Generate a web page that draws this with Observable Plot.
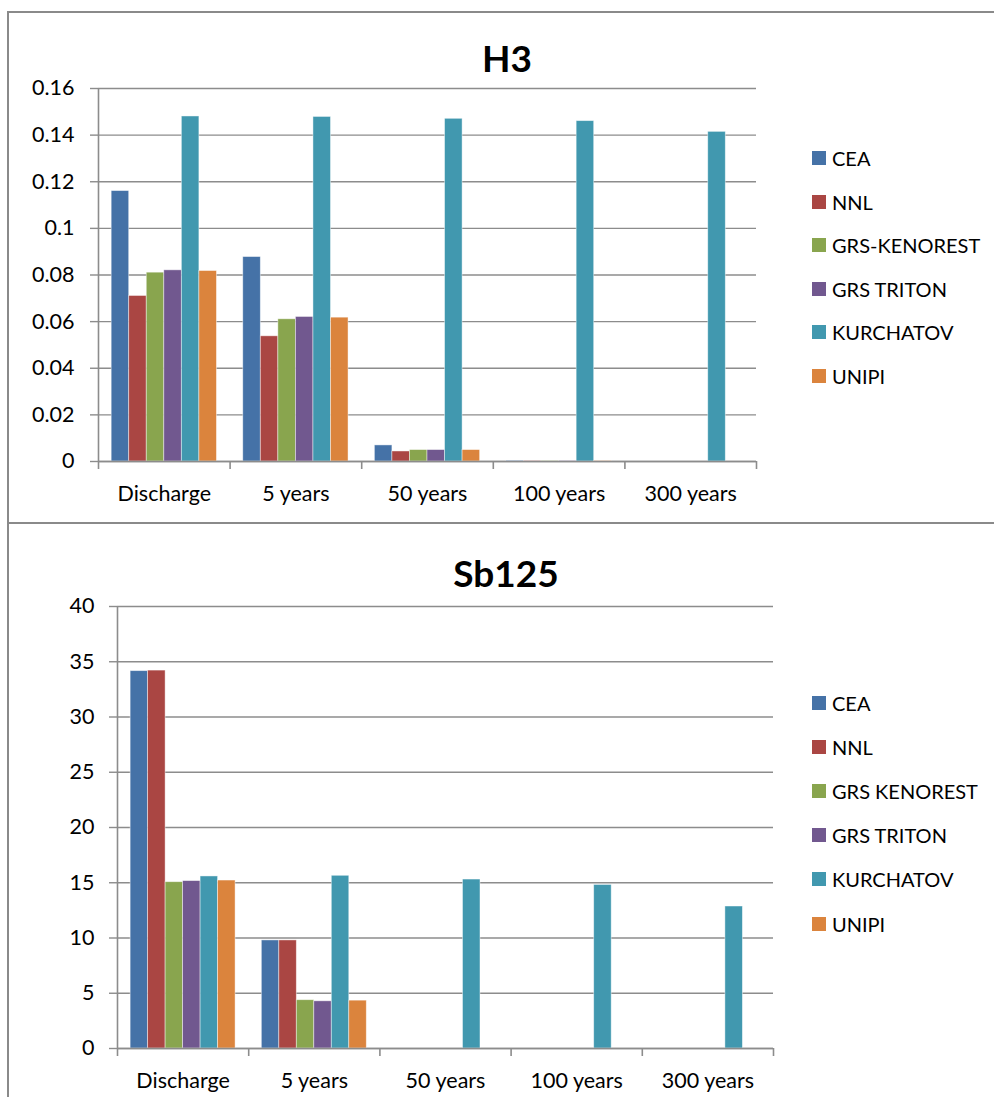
<!DOCTYPE html>
<html>
<head>
<meta charset="utf-8">
<script src="https://cdn.jsdelivr.net/npm/d3@7"></script>
<script src="https://cdn.jsdelivr.net/npm/@observablehq/plot@0.6"></script>
<style>
  html, body { margin: 0; padding: 0; background: #fff; }
  body { width: 994px; height: 1097px; position: relative; overflow: hidden; font-family: Lato, "Open Sans", sans-serif; }
  .chart { position: absolute; left: 0; width: 994px; }
  .box { position: absolute; left: 7px; border-top: 2px solid #8a8a8a; border-left: 2px solid #8a8a8a; box-sizing: border-box; }
  .plot { position: absolute; left: 0; top: 0; }
  .title { position: absolute; font-weight: bold; font-size: 37px; line-height: 37px; color: #000; transform: translateX(-50%); white-space: nowrap; }
  .legend-row { position: absolute; left: 812px; display: flex; align-items: center; height: 20px; font-size: 20px; color: #000; white-space: nowrap; }
  .legend-row span.sw { display: inline-block; width: 14px; height: 14px; margin-right: 6px; }
</style>
</head>
<body>
<div id="chart1" class="chart" style="top:0;height:524px"></div>
<div id="chart2" class="chart" style="top:522px;height:575px"></div>
<script>
// ---- Data ----
const categories = ["Discharge", "5 years", "50 years", "100 years", "300 years"];

const h3Series = ["CEA", "NNL", "GRS-KENOREST", "GRS TRITON", "KURCHATOV", "UNIPI"];
const sbSeries = ["CEA", "NNL", "GRS KENOREST", "GRS TRITON", "KURCHATOV", "UNIPI"];
const seriesColors = ["#4572a7", "#aa4643", "#89a54e", "#71588f", "#4198af", "#db843d"];

// H3 values per series (Discharge, 5y, 50y, 100y, 300y)
const h3CEA       = [0.116, 0.0877, 0.0069, 0.0003, null];
const h3NNL       = [0.071, 0.0537, 0.0043, 0.0002, null];
const h3GRSK      = [0.081, 0.061, 0.0049, 0.0002, null];
const h3GRST      = [0.082, 0.062, 0.0049, 0.0002, null];
const h3KURCHATOV = [0.148, 0.1478, 0.147, 0.146, 0.1414];
const h3UNIPI     = [0.0817, 0.0617, 0.0049, 0.0002, null];

// Sb125 values per series
const sbCEA       = [34.15, 9.78, null, null, null];
const sbNNL       = [34.2, 9.78, null, null, null];
const sbGRSK      = [15.05, 4.37, null, null, null];
const sbGRST      = [15.15, 4.27, null, null, null];
const sbKURCHATOV = [15.57, 15.63, 15.29, 14.8, 12.85];
const sbUNIPI     = [15.2, 4.33, null, null, null];

const h3Ticks = [0, 0.02, 0.04, 0.06, 0.08, 0.1, 0.12, 0.14, 0.16];
const sbTicks = [0, 5, 10, 15, 20, 25, 30, 35, 40];

// ---- Helpers ----
function buildRows(seriesNames, seriesValues) {
  const rows = [];
  const n = seriesNames.length;
  const groupWidth = 0.8;
  seriesValues.forEach((vals, si) => {
    vals.forEach((v, ci) => {
      if (v == null) return;
      const x1 = ci + (1 - groupWidth) / 2 + si * groupWidth / n;
      rows.push({series: seriesNames[si], cat: categories[ci], x1, x2: x1 + groupWidth / n, v});
    });
  });
  return rows;
}

function drawChart(container, opts) {
  const el = document.getElementById(container);
  const box = document.createElement("div");
  box.className = "box";
  box.style.top = opts.boxTop + "px";
  box.style.width = (994 - 7) + "px";
  box.style.height = opts.boxHeight + "px";
  if (opts.boxBottom) box.style.borderBottom = "2px solid #8a8a8a";
  el.appendChild(box);

  const rows = buildRows(opts.series, opts.values);
  const edges = categories.map((c, i) => i).concat([categories.length]);
  const labelPos = categories.map((c, i) => i + 0.5);
  const grid = "#8c8c8c";

  const plot = Plot.plot({
    width: 994,
    height: opts.height,
    marginLeft: opts.marginLeft,
    marginRight: opts.marginRight,
    marginTop: opts.marginTop,
    marginBottom: opts.marginBottom,
    style: {fontFamily: "Lato, 'Open Sans', sans-serif", fontSize: "21px", color: "#000", background: "transparent"},
    x: {type: "linear", domain: [0, categories.length], axis: null},
    y: {domain: opts.yDomain, axis: null},
    color: {domain: opts.series, range: seriesColors},
    marks: [
      Plot.gridY(opts.ticks, {stroke: grid, strokeOpacity: 1, strokeWidth: 1.4}),
      Plot.axisY({ticks: opts.ticks, tickSize: opts.tickSize, tickPadding: opts.tickPadding,
        tickFormat: opts.tickFormat, stroke: grid, strokeOpacity: 1, strokeWidth: 1.4,
        fill: "#000", fontSize: 21.5, label: null}),
      Plot.rectY(rows, {x1: "x1", x2: "x2", y: "v", fill: "series", stroke: "#fff", strokeOpacity: 0.55, strokeWidth: 0.8}),
      Plot.ruleX([0], {stroke: grid, strokeWidth: 1.6}),
      Plot.ruleY([0], {stroke: grid, strokeWidth: 1.6}),
      Plot.axisX({ticks: edges, tickSize: 8, tickFormat: () => "", stroke: grid, strokeOpacity: 1, strokeWidth: 1.6, label: null}),
      Plot.axisX({ticks: labelPos, tickSize: 0, tickPadding: 24, tickFormat: d => categories[Math.floor(d)],
        fill: "#000", fontSize: 21.5, label: null})
    ]
  });
  plot.classList.add("plot");
  el.appendChild(plot);

  const title = document.createElement("div");
  title.className = "title";
  title.textContent = opts.title;
  title.style.left = opts.titleX + "px";
  title.style.top = opts.titleTop + "px";
  el.appendChild(title);

  opts.series.forEach((s, i) => {
    const row = document.createElement("div");
    row.className = "legend-row";
    row.style.top = (opts.legendY[i] - 10) + "px";
    const sw = document.createElement("span");
    sw.className = "sw";
    sw.style.background = seriesColors[i];
    row.appendChild(sw);
    row.appendChild(document.createTextNode(s));
    el.appendChild(row);
  });
}

drawChart("chart1", {
  title: "H3", titleX: 507, titleTop: 39,
  boxTop: 11, boxHeight: 513, boxBottom: true,
  height: 522, marginLeft: 98, marginRight: 238, marginTop: 88, marginBottom: 61,
  yDomain: [0, 0.16], ticks: h3Ticks, tickSize: 8, tickPadding: 16,
  tickFormat: d => String(+d.toFixed(2)),
  series: h3Series,
  values: [h3CEA, h3NNL, h3GRSK, h3GRST, h3KURCHATOV, h3UNIPI],
  legendY: [158, 201.5, 245, 288.5, 332, 375.5]
});

drawChart("chart2", {
  title: "Sb125", titleX: 506, titleTop: 32,
  boxTop: 0, boxHeight: 600, boxBottom: false,
  height: 575, marginLeft: 117, marginRight: 221, marginTop: 84, marginBottom: 49,
  yDomain: [0, 40], ticks: sbTicks, tickSize: 8, tickPadding: 15,
  tickFormat: d => String(d),
  series: sbSeries,
  values: [sbCEA, sbNNL, sbGRSK, sbGRST, sbKURCHATOV, sbUNIPI],
  legendY: [181, 225, 269, 313, 357, 402]
});
</script>
</body>
</html>
